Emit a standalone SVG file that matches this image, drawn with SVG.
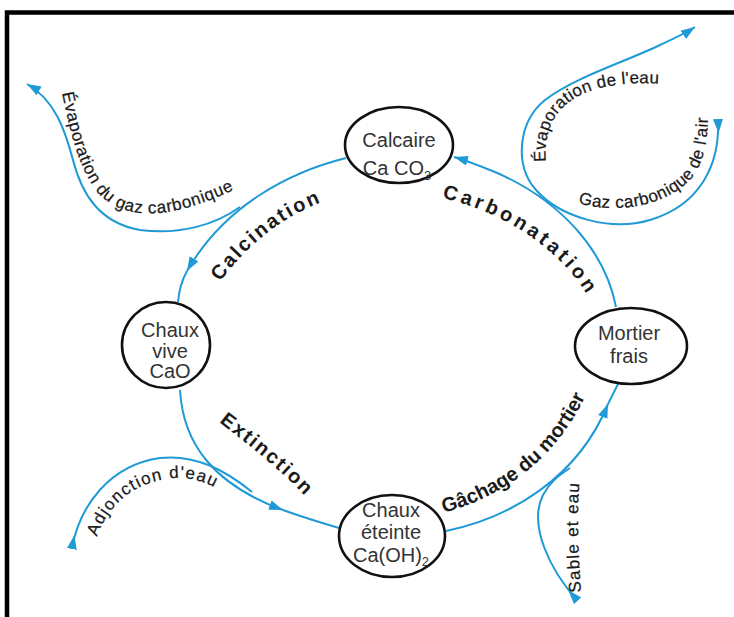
<svg xmlns="http://www.w3.org/2000/svg" width="734" height="617" viewBox="0 0 734 617">
<defs>
<style>
.conn{fill:none;stroke:#1f9ad6;stroke-width:2}
.node ellipse{fill:#fff;stroke:#111;stroke-width:2.6}
.nt{font-family:"Liberation Sans",Arial,sans-serif;font-size:20px;fill:#333;text-anchor:middle}
.lb{font-family:"Liberation Sans",Arial,sans-serif;font-weight:bold;font-size:20px;fill:#1a1a1a}
.sm{font-family:"Liberation Sans",Arial,sans-serif;font-size:17px;fill:#1a1a1a;stroke:#1a1a1a;stroke-width:0.25}
</style>
<marker id="aend" markerUnits="userSpaceOnUse" markerWidth="16" markerHeight="12" refX="14" refY="5" orient="auto" viewBox="0 0 16 12">
<path d="M0,0 L14,5 L0,10 z" fill="#1f9ad6"/>
</marker>
<marker id="ain" markerUnits="userSpaceOnUse" markerWidth="16" markerHeight="12" refX="1" refY="5" orient="auto" viewBox="0 0 16 12">
<path d="M0,0 L14,5 L0,10 z" fill="#1f9ad6"/>
</marker>
<path id="tpCalc" d="M220,282 C252,238 292,210 342,195"/>
<path id="tpCarb" d="M442,198 C505,212 562,250 590,300"/>
<path id="tpExt" d="M219,422 C250,446 284,472 312,504"/>
<path id="tpGach" d="M444,513 C510,494 568,452 598,366"/>
<path id="tpEvGaz" d="M62,93 C70,130 78,170 100,195 C125,220 170,222 244,185"/>
<path id="tpEvEau" d="M546,162 C542,120 565,95 605,87 C625,83 645,82 672,85"/>
<path id="tpGazAir" d="M578,203 C620,215 665,205 690,180 C703,165 708,145 708,110"/>
<path id="tpAdj" d="M97,537 C110,500 140,480 175,478 C195,477 214,484 236,502"/>
<path id="tpSable" d="M581,592 C579,560 576,520 580,478"/>
</defs>
<rect width="734" height="617" fill="#fff"/>
<path d="M7,617 V12.5 H734" fill="none" stroke="#000" stroke-width="4.5"/>

<g id="connectors">
<path class="conn" d="M346,158 C290,172 225,205 187,271" marker-end="url(#aend)"/>
<path class="conn" d="M187,271 C182,280 179,290 178,302"/>
<path class="conn" d="M180,390 C183,445 215,485 283,510" marker-end="url(#aend)"/>
<path class="conn" d="M283,510 C305,518 322,523 339,528"/>
<path class="conn" d="M446,531 C510,518 578,478 608,404" marker-end="url(#aend)"/>
<path class="conn" d="M608,404 C612,396 615,390 618,384"/>
<path class="conn" d="M616,307 C605,250 560,200 495,172 C480,166 468,161 454,157" marker-end="url(#aend)"/>
<path class="conn" d="M240,207 C215,225 180,235 140,230 C100,223 82,195 73,160 C65,130 55,100 27,84" marker-end="url(#aend)"/>
<path class="conn" d="M718,120 C720,165 700,205 650,220 C610,232 560,217 536,190 C514,165 518,122 545,100 C575,77 625,62 660,45 C675,38 686,33 695,27" marker-start="url(#ain)" marker-end="url(#aend)"/>
<path class="conn" d="M72,548 C80,505 110,465 160,458 C195,454 225,470 252,492" marker-start="url(#ain)"/>
<path class="conn" d="M577,600 C550,570 528,525 543,495 C550,482 558,476 570,468" marker-start="url(#ain)"/>
</g>

<g id="labels">
<text class="lb" font-size="22" letter-spacing="2.2"><textPath href="#tpCalc">Calcination</textPath></text>
<text class="lb" letter-spacing="3.5"><textPath href="#tpCarb">Carbonatation</textPath></text>
<text class="lb" font-size="21" letter-spacing="1.8"><textPath href="#tpExt">Extinction</textPath></text>
<text class="lb" font-size="20.5"><textPath href="#tpGach">Gâchage du mortier</textPath></text>
<text class="sm" letter-spacing="0.6"><textPath href="#tpEvGaz">Évaporation du gaz carbonique</textPath></text>
<text class="sm" letter-spacing="0.3"><textPath href="#tpEvEau">Évaporation de l'eau</textPath></text>
<text class="sm" letter-spacing="0.5"><textPath href="#tpGazAir">Gaz carbonique de l'air</textPath></text>
<text class="sm" letter-spacing="1.3"><textPath href="#tpAdj">Adjonction d'eau</textPath></text>
<text class="sm" letter-spacing="1.2"><textPath href="#tpSable">Sable et eau</textPath></text>
</g>

<g id="calcaire" class="node">
<ellipse cx="399" cy="145" rx="54" ry="38"/>
<text class="nt" x="399" y="147" font-size="21">Calcaire</text>
<text class="nt" x="397" y="175" font-size="21">Ca CO<tspan font-size="13" dy="5">3</tspan></text>
</g>
<g id="chaux-vive" class="node">
<ellipse cx="166" cy="345" rx="44" ry="43"/>
<text class="nt" x="170" y="337">Chaux</text>
<text class="nt" x="170" y="358">vive</text>
<text class="nt" x="170" y="378">CaO</text>
</g>
<g id="mortier-frais" class="node">
<ellipse cx="631" cy="346" rx="56" ry="38"/>
<text class="nt" x="629" y="340" font-size="21">Mortier</text>
<text class="nt" x="629" y="363" font-size="21">frais</text>
</g>
<g id="chaux-eteinte" class="node">
<ellipse cx="392" cy="536" rx="53" ry="41"/>
<text class="nt" x="391" y="517">Chaux</text>
<text class="nt" x="391" y="539">éteinte</text>
<text class="nt" x="391" y="562">Ca(OH)<tspan font-size="13" dy="4">2</tspan></text>
</g>
</svg>
